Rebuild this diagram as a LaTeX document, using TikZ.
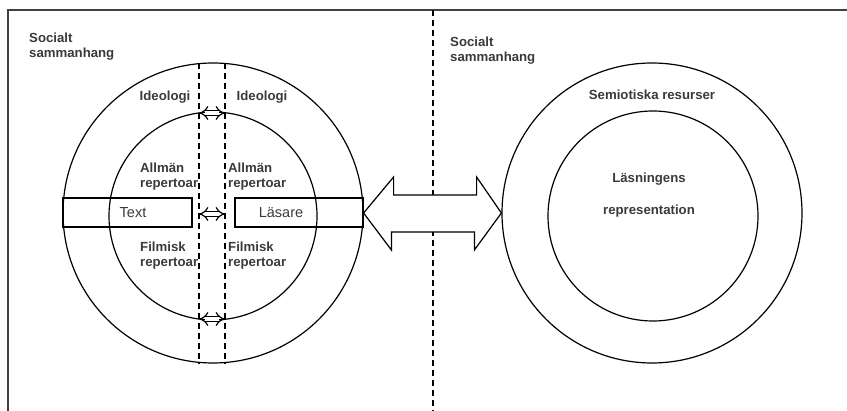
\documentclass[tikz,border=0pt]{standalone}
\usepackage{fontspec}
\setmainfont{Liberation Sans}
\usepackage{tikz}
\usetikzlibrary{arrows.meta}
\definecolor{labelgray}{HTML}{3A3A3A}

\begin{document}
\begin{tikzpicture}[x=1pt,y=-1pt,
	ring/.style={circle,draw,line width=1.2pt,minimum size=#1,inner sep=0pt},
	lbl/.style={font=\bfseries\fontsize{13.2}{15}\selectfont,text=labelgray,inner sep=0pt,align=left},
	boxlbl/.style={font=\fontsize{14.5}{16}\selectfont,text=labelgray,inner sep=0pt},
	dashline/.style={line width=1.2pt,dash pattern=on 6pt off 4pt},
	smallarrow/.style={double,double distance=3.6pt,line width=1.2pt,{Implies}-{Implies}}]
	\useasboundingbox (0,0) rectangle (847,411);
	\draw[line width=1.8pt,black!75] (847,10) -- (8,10) -- (8,411);
	\draw[dashline] (433,10) -- (433,411);
	%
	\node[ring=300pt] (outerL) at (213,213) {};
	\node[ring=208pt] (innerL) at (213,216) {};
	\draw[line width=1.2pt] (63,198) rectangle (192,227);
	\draw[line width=1.2pt] (235,198) rectangle (363,227);
	\draw[dashline] (199,63) -- (199,364);
	\draw[dashline] (225,63) -- (225,364);
	\coordinate (topL) at (199,113); \coordinate (topR) at (225,113);
	\coordinate (midL) at (199,214); \coordinate (midR) at (225,214);
	\coordinate (botL) at (199,319); \coordinate (botR) at (225,319);
	\draw[smallarrow] (topL) -- (topR);
	\draw[smallarrow] (midL) -- (midR);
	\draw[smallarrow] (botL) -- (botR);
	%
	\node[ring=300pt] (outerR) at (652,213) {};
	\node[ring=210pt] (innerR) at (653,216) {};
	\draw[line width=1.2pt,fill=white] (outerL.east) -- ++(30,-36) -- ++(0,18) -- ++(83,0) -- ++(0,-18)
		-- (outerR.west) -- ++(-27,37) -- ++(0,-18) -- ++(-83,0) -- ++(0,18) -- cycle;
	%
	\node[lbl,anchor=west] (socL) at (29,47) {Socialt\\sammanhang};
	\node[lbl,anchor=west] (socR) at (450,51) {Socialt\\sammanhang};
	\node[lbl] (ideoL) at (165,97) {Ideologi};
	\node[lbl] (ideoR) at (262,97) {Ideologi};
	\node[lbl,anchor=west] (allmL) at (140,177) {Allmän\\repertoar};
	\node[lbl,anchor=west] (allmR) at (228,177) {Allmän\\repertoar};
	\node[lbl,anchor=west] (filmL) at (140,256) {Filmisk\\repertoar};
	\node[lbl,anchor=west] (filmR) at (228,256) {Filmisk\\repertoar};
	\node[boxlbl] (text) at (133,213) {Text};
	\node[boxlbl] (lasare) at (281,213) {Läsare};
	\node[lbl] (semio) at (652,95) {Semiotiska resurser};
	\node[lbl] (lasn) at (649,179) {Läsningens};
	\node[lbl] (repr) at (649,211) {representation};
\end{tikzpicture}
\end{document}
